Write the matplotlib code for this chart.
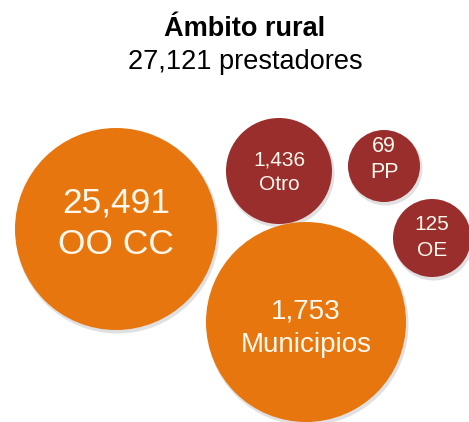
import matplotlib
matplotlib.use("Agg")
import matplotlib.pyplot as plt
from matplotlib.patches import Circle

plt.rcParams['font.family'] = ['Liberation Sans', 'DejaVu Sans']

# data
labels = ["OO CC", "Otro", "PP", "OE", "Municipios"]
values = [25491, 1436, 69, 125, 1753]
total = 27121
title = "Ámbito rural"

# layout (pixel coordinates of the 469x422 picture)
centers = [(116, 229), (279, 171), (384, 166), (432, 238), (306, 322)]
radii = [101, 53, 36, 39, 100]
colors = ["#E8760F", "#9A2E2C", "#9A2E2C", "#9A2E2C", "#E8760F"]
num_sizes = [25.5, 15, 15.5, 15, 20]
num_dy = [-26, -11, -19, -13, -10]
lab_dy = [16, 13, 6, 12, 23]

fig = plt.figure(figsize=(4.69, 4.22), dpi=100)
ax = fig.add_axes([0, 0, 1, 1])
ax.set_xlim(0, 469)
ax.set_ylim(422, 0)
ax.set_aspect('equal')
ax.axis('off')

for i, (lab, val) in enumerate(zip(labels, values)):
    cx, cy = centers[i]
    r = radii[i]
    # soft shadow
    ax.add_patch(Circle((cx + 1.5, cy + 2.5), r + 1, color="#000000", alpha=0.12, lw=0))
    ax.add_patch(Circle((cx, cy), r, facecolor=colors[i], edgecolor="none"))
    ax.text(cx, cy + num_dy[i], f"{val:,}", color="#FFF8EC", fontsize=num_sizes[i],
            ha="center", va="center")
    ax.text(cx, cy + lab_dy[i], lab, color="#FFF8EC", fontsize=num_sizes[i],
            ha="center", va="center")

ax.text(245, 29, title, fontsize=19.5, fontweight="bold", ha="center", va="center")
ax.text(245, 62, f"{total:,} prestadores", fontsize=19.5, ha="center", va="center")

fig.savefig("out.png", dpi=100)
